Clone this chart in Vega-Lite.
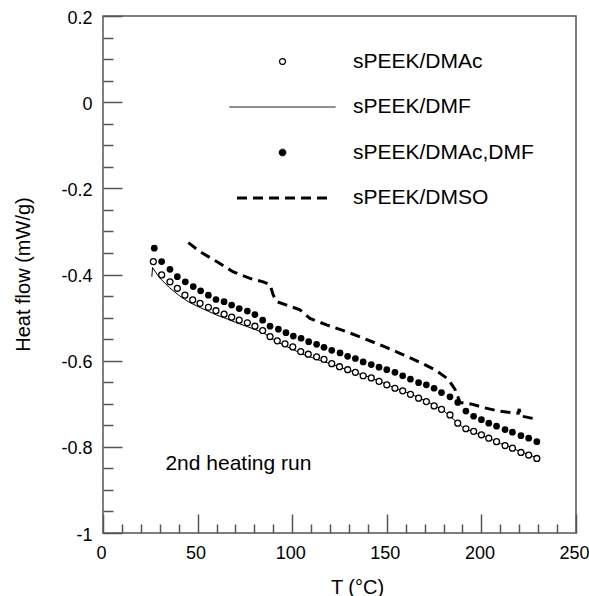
{
  "$schema": "https://vega.github.io/schema/vega-lite/v6.json",
  "width": 473,
  "height": 517,
  "autosize": {"type": "none"},
  "padding": {"left": 103, "top": 16, "right": 13, "bottom": 63},
  "background": "white",
  "config": {
    "view": {"stroke": "#555555", "strokeWidth": 1.5},
    "font": "Liberation Sans",
    "axis": {"grid": false, "domain": false, "tickColor": "#555555", "tickWidth": 1.5, "labelColor": "black", "titleColor": "black", "labelFont": "Liberation Sans", "titleFont": "Liberation Sans", "titleFontWeight": "normal"}
  },
  "data": {
    "values": [
      {"series": "sPEEK/DMAc", "T": 26.6, "hf": -0.370},
      {"series": "sPEEK/DMAc", "T": 31, "hf": -0.401},
      {"series": "sPEEK/DMAc", "T": 35.4, "hf": -0.417},
      {"series": "sPEEK/DMAc", "T": 39.3, "hf": -0.432},
      {"series": "sPEEK/DMAc", "T": 43.3, "hf": -0.448},
      {"series": "sPEEK/DMAc", "T": 47.4, "hf": -0.459},
      {"series": "sPEEK/DMAc", "T": 51.3, "hf": -0.467},
      {"series": "sPEEK/DMAc", "T": 55.7, "hf": -0.476},
      {"series": "sPEEK/DMAc", "T": 59.7, "hf": -0.484},
      {"series": "sPEEK/DMAc", "T": 64, "hf": -0.492},
      {"series": "sPEEK/DMAc", "T": 68, "hf": -0.499},
      {"series": "sPEEK/DMAc", "T": 72, "hf": -0.506},
      {"series": "sPEEK/DMAc", "T": 76.3, "hf": -0.512},
      {"series": "sPEEK/DMAc", "T": 80.3, "hf": -0.520},
      {"series": "sPEEK/DMAc", "T": 84.4, "hf": -0.530},
      {"series": "sPEEK/DMAc", "T": 88.3, "hf": -0.544},
      {"series": "sPEEK/DMAc", "T": 92.1, "hf": -0.554},
      {"series": "sPEEK/DMAc", "T": 96.2, "hf": -0.561},
      {"series": "sPEEK/DMAc", "T": 100.3, "hf": -0.568},
      {"series": "sPEEK/DMAc", "T": 104.5, "hf": -0.579},
      {"series": "sPEEK/DMAc", "T": 108.5, "hf": -0.585},
      {"series": "sPEEK/DMAc", "T": 112.9, "hf": -0.591},
      {"series": "sPEEK/DMAc", "T": 116.8, "hf": -0.597},
      {"series": "sPEEK/DMAc", "T": 120.9, "hf": -0.607},
      {"series": "sPEEK/DMAc", "T": 125, "hf": -0.614},
      {"series": "sPEEK/DMAc", "T": 129.3, "hf": -0.621},
      {"series": "sPEEK/DMAc", "T": 133.4, "hf": -0.627},
      {"series": "sPEEK/DMAc", "T": 137.5, "hf": -0.635},
      {"series": "sPEEK/DMAc", "T": 141.8, "hf": -0.640},
      {"series": "sPEEK/DMAc", "T": 145.9, "hf": -0.648},
      {"series": "sPEEK/DMAc", "T": 150, "hf": -0.656},
      {"series": "sPEEK/DMAc", "T": 154.3, "hf": -0.664},
      {"series": "sPEEK/DMAc", "T": 158.4, "hf": -0.670},
      {"series": "sPEEK/DMAc", "T": 162.5, "hf": -0.678},
      {"series": "sPEEK/DMAc", "T": 166.8, "hf": -0.687},
      {"series": "sPEEK/DMAc", "T": 170.9, "hf": -0.695},
      {"series": "sPEEK/DMAc", "T": 175, "hf": -0.705},
      {"series": "sPEEK/DMAc", "T": 178.9, "hf": -0.713},
      {"series": "sPEEK/DMAc", "T": 183.4, "hf": -0.726},
      {"series": "sPEEK/DMAc", "T": 187.5, "hf": -0.745},
      {"series": "sPEEK/DMAc", "T": 191.8, "hf": -0.758},
      {"series": "sPEEK/DMAc", "T": 195.9, "hf": -0.764},
      {"series": "sPEEK/DMAc", "T": 200, "hf": -0.772},
      {"series": "sPEEK/DMAc", "T": 203.9, "hf": -0.780},
      {"series": "sPEEK/DMAc", "T": 208, "hf": -0.788},
      {"series": "sPEEK/DMAc", "T": 212.5, "hf": -0.797},
      {"series": "sPEEK/DMAc", "T": 216.4, "hf": -0.803},
      {"series": "sPEEK/DMAc", "T": 220.9, "hf": -0.813},
      {"series": "sPEEK/DMAc", "T": 225, "hf": -0.819},
      {"series": "sPEEK/DMAc", "T": 229.3, "hf": -0.827},

      {"series": "sPEEK/DMAc,DMF", "T": 27.1, "hf": -0.339},
      {"series": "sPEEK/DMAc,DMF", "T": 31, "hf": -0.370},
      {"series": "sPEEK/DMAc,DMF", "T": 35.4, "hf": -0.388},
      {"series": "sPEEK/DMAc,DMF", "T": 39.3, "hf": -0.405},
      {"series": "sPEEK/DMAc,DMF", "T": 43.5, "hf": -0.417},
      {"series": "sPEEK/DMAc,DMF", "T": 47.7, "hf": -0.428},
      {"series": "sPEEK/DMAc,DMF", "T": 51.6, "hf": -0.438},
      {"series": "sPEEK/DMAc,DMF", "T": 55.7, "hf": -0.448},
      {"series": "sPEEK/DMAc,DMF", "T": 59.7, "hf": -0.458},
      {"series": "sPEEK/DMAc,DMF", "T": 64, "hf": -0.463},
      {"series": "sPEEK/DMAc,DMF", "T": 68, "hf": -0.471},
      {"series": "sPEEK/DMAc,DMF", "T": 72, "hf": -0.479},
      {"series": "sPEEK/DMAc,DMF", "T": 76.3, "hf": -0.485},
      {"series": "sPEEK/DMAc,DMF", "T": 80.3, "hf": -0.493},
      {"series": "sPEEK/DMAc,DMF", "T": 84.4, "hf": -0.506},
      {"series": "sPEEK/DMAc,DMF", "T": 88.3, "hf": -0.520},
      {"series": "sPEEK/DMAc,DMF", "T": 92.7, "hf": -0.527},
      {"series": "sPEEK/DMAc,DMF", "T": 96.7, "hf": -0.535},
      {"series": "sPEEK/DMAc,DMF", "T": 100.6, "hf": -0.543},
      {"series": "sPEEK/DMAc,DMF", "T": 104.7, "hf": -0.548},
      {"series": "sPEEK/DMAc,DMF", "T": 108.7, "hf": -0.556},
      {"series": "sPEEK/DMAc,DMF", "T": 112.9, "hf": -0.562},
      {"series": "sPEEK/DMAc,DMF", "T": 116.8, "hf": -0.569},
      {"series": "sPEEK/DMAc,DMF", "T": 120.9, "hf": -0.576},
      {"series": "sPEEK/DMAc,DMF", "T": 125.3, "hf": -0.582},
      {"series": "sPEEK/DMAc,DMF", "T": 129.3, "hf": -0.590},
      {"series": "sPEEK/DMAc,DMF", "T": 133.4, "hf": -0.595},
      {"series": "sPEEK/DMAc,DMF", "T": 137.5, "hf": -0.603},
      {"series": "sPEEK/DMAc,DMF", "T": 141.8, "hf": -0.609},
      {"series": "sPEEK/DMAc,DMF", "T": 145.9, "hf": -0.615},
      {"series": "sPEEK/DMAc,DMF", "T": 150, "hf": -0.621},
      {"series": "sPEEK/DMAc,DMF", "T": 154.3, "hf": -0.627},
      {"series": "sPEEK/DMAc,DMF", "T": 158.4, "hf": -0.635},
      {"series": "sPEEK/DMAc,DMF", "T": 162.5, "hf": -0.643},
      {"series": "sPEEK/DMAc,DMF", "T": 166.8, "hf": -0.651},
      {"series": "sPEEK/DMAc,DMF", "T": 170.9, "hf": -0.656},
      {"series": "sPEEK/DMAc,DMF", "T": 175, "hf": -0.664},
      {"series": "sPEEK/DMAc,DMF", "T": 178.9, "hf": -0.674},
      {"series": "sPEEK/DMAc,DMF", "T": 183.4, "hf": -0.684},
      {"series": "sPEEK/DMAc,DMF", "T": 187.5, "hf": -0.697},
      {"series": "sPEEK/DMAc,DMF", "T": 191.8, "hf": -0.717},
      {"series": "sPEEK/DMAc,DMF", "T": 195.9, "hf": -0.729},
      {"series": "sPEEK/DMAc,DMF", "T": 200, "hf": -0.737},
      {"series": "sPEEK/DMAc,DMF", "T": 203.9, "hf": -0.745},
      {"series": "sPEEK/DMAc,DMF", "T": 208, "hf": -0.752},
      {"series": "sPEEK/DMAc,DMF", "T": 212.5, "hf": -0.760},
      {"series": "sPEEK/DMAc,DMF", "T": 216.4, "hf": -0.766},
      {"series": "sPEEK/DMAc,DMF", "T": 220.9, "hf": -0.774},
      {"series": "sPEEK/DMAc,DMF", "T": 225, "hf": -0.780},
      {"series": "sPEEK/DMAc,DMF", "T": 229.3, "hf": -0.788},

      {"series": "sPEEK/DMF", "T": 25.8, "hf": -0.405},
      {"series": "sPEEK/DMF", "T": 26.2, "hf": -0.384},
      {"series": "sPEEK/DMF", "T": 28, "hf": -0.396},
      {"series": "sPEEK/DMF", "T": 30, "hf": -0.408},
      {"series": "sPEEK/DMF", "T": 35, "hf": -0.430},
      {"series": "sPEEK/DMF", "T": 40, "hf": -0.448},
      {"series": "sPEEK/DMF", "T": 45, "hf": -0.463},
      {"series": "sPEEK/DMF", "T": 50, "hf": -0.474},
      {"series": "sPEEK/DMF", "T": 55, "hf": -0.484},
      {"series": "sPEEK/DMF", "T": 60, "hf": -0.494},
      {"series": "sPEEK/DMF", "T": 65, "hf": -0.502},
      {"series": "sPEEK/DMF", "T": 70, "hf": -0.511},
      {"series": "sPEEK/DMF", "T": 75, "hf": -0.519},
      {"series": "sPEEK/DMF", "T": 80, "hf": -0.527},
      {"series": "sPEEK/DMF", "T": 85, "hf": -0.536},
      {"series": "sPEEK/DMF", "T": 90, "hf": -0.551},
      {"series": "sPEEK/DMF", "T": 95, "hf": -0.563},
      {"series": "sPEEK/DMF", "T": 100, "hf": -0.573},
      {"series": "sPEEK/DMF", "T": 105, "hf": -0.584},
      {"series": "sPEEK/DMF", "T": 110, "hf": -0.592},
      {"series": "sPEEK/DMF", "T": 115, "hf": -0.600},
      {"series": "sPEEK/DMF", "T": 120, "hf": -0.607},
      {"series": "sPEEK/DMF", "T": 125, "hf": -0.615},
      {"series": "sPEEK/DMF", "T": 130, "hf": -0.622},
      {"series": "sPEEK/DMF", "T": 135, "hf": -0.630},
      {"series": "sPEEK/DMF", "T": 140, "hf": -0.637},
      {"series": "sPEEK/DMF", "T": 145, "hf": -0.646},
      {"series": "sPEEK/DMF", "T": 150, "hf": -0.655},
      {"series": "sPEEK/DMF", "T": 155, "hf": -0.665},
      {"series": "sPEEK/DMF", "T": 160, "hf": -0.673},
      {"series": "sPEEK/DMF", "T": 165, "hf": -0.682},
      {"series": "sPEEK/DMF", "T": 170, "hf": -0.692},
      {"series": "sPEEK/DMF", "T": 175, "hf": -0.703},
      {"series": "sPEEK/DMF", "T": 180, "hf": -0.716},
      {"series": "sPEEK/DMF", "T": 185, "hf": -0.735},
      {"series": "sPEEK/DMF", "T": 190, "hf": -0.754},
      {"series": "sPEEK/DMF", "T": 195, "hf": -0.765},
      {"series": "sPEEK/DMF", "T": 200, "hf": -0.773},
      {"series": "sPEEK/DMF", "T": 205, "hf": -0.782},
      {"series": "sPEEK/DMF", "T": 210, "hf": -0.792},
      {"series": "sPEEK/DMF", "T": 215, "hf": -0.800},
      {"series": "sPEEK/DMF", "T": 220, "hf": -0.810},
      {"series": "sPEEK/DMF", "T": 225, "hf": -0.818},
      {"series": "sPEEK/DMF", "T": 229, "hf": -0.825},

      {"series": "sPEEK/DMSO", "T": 45.1, "hf": -0.326},
      {"series": "sPEEK/DMSO", "T": 51.3, "hf": -0.347},
      {"series": "sPEEK/DMSO", "T": 60.1, "hf": -0.370},
      {"series": "sPEEK/DMSO", "T": 68.9, "hf": -0.394},
      {"series": "sPEEK/DMSO", "T": 77.7, "hf": -0.409},
      {"series": "sPEEK/DMSO", "T": 84.7, "hf": -0.417},
      {"series": "sPEEK/DMSO", "T": 88.3, "hf": -0.424},
      {"series": "sPEEK/DMSO", "T": 90, "hf": -0.448},
      {"series": "sPEEK/DMSO", "T": 91.8, "hf": -0.463},
      {"series": "sPEEK/DMSO", "T": 97.1, "hf": -0.471},
      {"series": "sPEEK/DMSO", "T": 104.1, "hf": -0.482},
      {"series": "sPEEK/DMSO", "T": 109.4, "hf": -0.502},
      {"series": "sPEEK/DMSO", "T": 118.2, "hf": -0.517},
      {"series": "sPEEK/DMSO", "T": 128.8, "hf": -0.533},
      {"series": "sPEEK/DMSO", "T": 136, "hf": -0.545},
      {"series": "sPEEK/DMSO", "T": 148.5, "hf": -0.567},
      {"series": "sPEEK/DMSO", "T": 157.5, "hf": -0.584},
      {"series": "sPEEK/DMSO", "T": 169.1, "hf": -0.607},
      {"series": "sPEEK/DMSO", "T": 176.2, "hf": -0.623},
      {"series": "sPEEK/DMSO", "T": 182.4, "hf": -0.643},
      {"series": "sPEEK/DMSO", "T": 186, "hf": -0.666},
      {"series": "sPEEK/DMSO", "T": 188.7, "hf": -0.697},
      {"series": "sPEEK/DMSO", "T": 195, "hf": -0.701},
      {"series": "sPEEK/DMSO", "T": 201.2, "hf": -0.709},
      {"series": "sPEEK/DMSO", "T": 209.2, "hf": -0.717},
      {"series": "sPEEK/DMSO", "T": 216.4, "hf": -0.721},
      {"series": "sPEEK/DMSO", "T": 219.5, "hf": -0.722},
      {"series": "sPEEK/DMSO", "T": 220, "hf": -0.712},
      {"series": "sPEEK/DMSO", "T": 220.5, "hf": -0.728},
      {"series": "sPEEK/DMSO", "T": 227.1, "hf": -0.734},
      {"series": "sPEEK/DMSO", "T": 229.3, "hf": -0.735}
    ]
  },
  "layer": [
    {
      "transform": [{"filter": "datum.series === 'sPEEK/DMF'"}],
      "mark": {"type": "line", "strokeWidth": 1},
      "encoding": {
        "x": {"field": "T", "type": "quantitative", "scale": {"domain": [0, 250], "nice": false, "zero": false},
          "axis": {"orient": "bottom", "values": [0, 50, 100, 150, 200, 250], "format": "d", "tickSize": -19, "labelPadding": 30, "labelFontSize": 18, "labelFlush": false, "labelOverlap": false, "labelOffset": -2,
            "title": "T (°C)", "titleFontSize": 20, "titleX": 254, "titleY": 54, "titleBaseline": "middle", "titleAlign": "center"}},
        "y": {"field": "hf", "type": "quantitative", "scale": {"domain": [-1, 0.2], "nice": false, "zero": false},
          "axis": {"orient": "left", "values": [-1, -0.8, -0.6, -0.4, -0.2, 0, 0.2], "tickSize": -19, "labelPadding": 30, "labelFontSize": 18, "labelFlush": false, "labelOverlap": false, "labelOffset": 2,
            "labelExpr": "datum.value < -0.001 ? '-' + format(-datum.value, '~g') : format(datum.value, '~g')",
            "title": "Heat flow (mW/g)", "titleFontSize": 20, "titleX": -80, "titleY": 258, "titleAngle": -90, "titleBaseline": "middle", "titleAlign": "center"}},
        "color": {"field": "series", "type": "nominal",
          "scale": {"domain": ["sPEEK/DMAc", "sPEEK/DMF", "sPEEK/DMAc,DMF", "sPEEK/DMSO"], "range": ["black", "black", "black", "black"]},
          "legend": {"orient": "none", "legendX": 169, "legendY": 35, "title": null, "padding": 0, "labelFontSize": 21, "labelFont": "Liberation Sans", "labelColor": "black", "labelOffset": 60, "rowPadding": 23.5, "symbolSize": 40, "labelLimit": 0,
            "encode": {"symbols": {"update": {
              "shape": {"signal": "datum.value === 'sPEEK/DMF' ? 'M-16.8,0L16.8,0' : datum.value === 'sPEEK/DMSO' ? 'M-14.4,0L14.4,0' : 'circle'"},
              "fill": {"signal": "datum.value === 'sPEEK/DMAc,DMF' ? 'black' : datum.value === 'sPEEK/DMAc' ? 'white' : 'transparent'"},
              "stroke": {"value": "black"},
              "strokeWidth": {"signal": "datum.value === 'sPEEK/DMSO' ? 3 : datum.value === 'sPEEK/DMAc' ? 1.3 : 1"},
              "strokeDash": {"signal": "datum.value === 'sPEEK/DMSO' ? [10, 6] : [1, 0]"},
              "size": {"signal": "datum.value === 'sPEEK/DMAc,DMF' ? 45 : datum.value === 'sPEEK/DMAc' ? 35 : 40"},
              "opacity": {"value": 1}
            }}}}
        }
      }
    },
    {
      "transform": [{"filter": "datum.series === 'sPEEK/DMSO'"}],
      "mark": {"type": "line", "strokeWidth": 3, "strokeDash": [10, 6], "color": "black"},
      "encoding": {
        "x": {"field": "T", "type": "quantitative",
          "axis": {"orient": "bottom", "values": [10, 20, 30, 40, 60, 70, 80, 90, 110, 120, 130, 140, 160, 170, 180, 190, 210, 220, 230, 240], "tickSize": -9, "labels": false, "title": null}},
        "y": {"field": "hf", "type": "quantitative",
          "axis": {"orient": "left", "values": [-0.95, -0.9, -0.85, -0.75, -0.7, -0.65, -0.55, -0.5, -0.45, -0.35, -0.3, -0.25, -0.15, -0.1, -0.05, 0.05, 0.1, 0.15], "tickSize": -10, "labels": false, "title": null}}
      }
    },
    {
      "transform": [{"filter": "datum.series === 'sPEEK/DMAc'"}],
      "mark": {"type": "point", "shape": "circle", "filled": false, "fill": "white", "fillOpacity": 1, "stroke": "black", "strokeWidth": 1.3, "size": 35, "opacity": 1},
      "encoding": {
        "x": {"field": "T", "type": "quantitative", "axis": null},
        "y": {"field": "hf", "type": "quantitative", "axis": null}
      }
    },
    {
      "transform": [{"filter": "datum.series === 'sPEEK/DMAc,DMF'"}],
      "mark": {"type": "circle", "color": "black", "size": 45, "opacity": 1},
      "encoding": {
        "x": {"field": "T", "type": "quantitative", "axis": null},
        "y": {"field": "hf", "type": "quantitative", "axis": null}
      }
    },
    {
      "data": {"values": [{"T": 33, "hf": -0.84, "label": "2nd heating run"}]},
      "mark": {"type": "text", "align": "left", "baseline": "middle", "fontSize": 21, "font": "Liberation Sans", "color": "black"},
      "encoding": {
        "x": {"field": "T", "type": "quantitative", "axis": null},
        "y": {"field": "hf", "type": "quantitative", "axis": null},
        "text": {"field": "label", "type": "nominal"}
      }
    }
  ],
  "resolve": {"axis": {"x": "independent", "y": "independent"}}
}
